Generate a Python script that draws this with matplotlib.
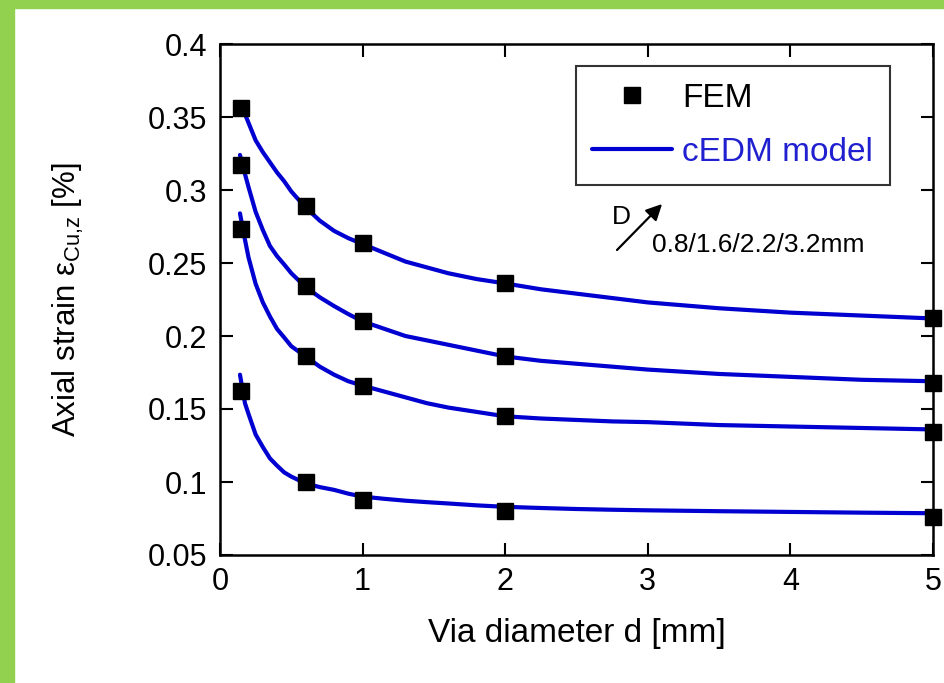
import matplotlib
matplotlib.use('Agg')
import matplotlib.pyplot as plt
from matplotlib.patches import Rectangle

plt.rcParams['font.family'] = ['Liberation Sans', 'DejaVu Sans']
plt.rcParams['mathtext.fontset'] = 'custom'
plt.rcParams['mathtext.rm'] = 'Liberation Sans'
plt.rcParams['mathtext.it'] = 'Liberation Sans'

# FEM points
fem_x = [0.15, 0.6, 1.0, 2.0, 5.0]
fem_D08 = [0.162, 0.100, 0.088, 0.080, 0.076]
fem_D16 = [0.273, 0.186, 0.166, 0.145, 0.134]
fem_D22 = [0.317, 0.234, 0.210, 0.186, 0.168]
fem_D32 = [0.356, 0.289, 0.264, 0.236, 0.212]

# cEDM model curves
mod_x = [0.14, 0.175, 0.2, 0.25, 0.3, 0.35, 0.4, 0.45, 0.5, 0.6, 0.7, 0.8, 0.9, 1.0,
         1.15, 1.3, 1.45, 1.6, 1.8, 2.0, 2.25, 2.5, 2.75, 3.0, 3.5, 4.0, 4.5, 5.0]
mod_D08 = [0.1735, 0.154, 0.1466, 0.1325, 0.124, 0.1162, 0.1112, 0.1066, 0.1037, 0.099,
           0.0965, 0.0946, 0.092, 0.090, 0.0885, 0.0872, 0.0862, 0.0853, 0.084, 0.083,
           0.0822, 0.0815, 0.081, 0.0806, 0.080, 0.0795, 0.079, 0.0786]
mod_D16 = [0.284, 0.266, 0.2538, 0.2357, 0.2231, 0.2134, 0.2048, 0.199, 0.193, 0.186,
           0.179, 0.1735, 0.169, 0.166, 0.162, 0.158, 0.154, 0.151, 0.148, 0.145,
           0.1435, 0.1425, 0.1415, 0.141, 0.139, 0.138, 0.137, 0.136]
mod_D22 = [0.324, 0.311, 0.302, 0.285, 0.2727, 0.2617, 0.2547, 0.249, 0.243, 0.2335,
           0.2265, 0.2205, 0.215, 0.210, 0.205, 0.200, 0.197, 0.194, 0.190, 0.186,
           0.183, 0.181, 0.179, 0.177, 0.174, 0.172, 0.170, 0.169]
mod_D32 = [0.358, 0.352, 0.346, 0.334, 0.326, 0.319, 0.312, 0.306, 0.299, 0.288,
           0.279, 0.272, 0.267, 0.263, 0.257, 0.251, 0.247, 0.243, 0.239, 0.236,
           0.232, 0.229, 0.226, 0.223, 0.219, 0.216, 0.214, 0.212]

fig = plt.figure(figsize=(9.45, 6.83), dpi=100)
fig.patch.set_facecolor('white')
green = '#92d050'
fig.patches.append(Rectangle((0, 0), 14 / 945, 1, transform=fig.transFigure, color=green, zorder=0))
fig.patches.append(Rectangle((0, 1 - 8 / 683), 1, 8 / 683, transform=fig.transFigure, color=green, zorder=0))

ax = fig.add_axes([220 / 945, 1 - 555 / 683, 713 / 945, 511 / 683])

blue = '#0000d0'
for i, (m, f) in enumerate([(mod_D08, fem_D08), (mod_D16, fem_D16), (mod_D22, fem_D22), (mod_D32, fem_D32)]):
    ax.plot(mod_x, m, color=blue, lw=3.0, zorder=2, solid_capstyle='round',
            solid_joinstyle='round', label='cEDM model' if i == 0 else None)
    ax.plot(fem_x, f, 's', color='black', ms=11, zorder=3, clip_on=False,
            label='FEM' if i == 0 else None)

ax.set_xlim(0, 5)
ax.set_ylim(0.05, 0.4)
ax.set_xticks([0, 1, 2, 3, 4, 5])
ax.set_yticks([0.05, 0.1, 0.15, 0.2, 0.25, 0.3, 0.35, 0.4])
ax.set_yticklabels(['0.05', '0.1', '0.15', '0.2', '0.25', '0.3', '0.35', '0.4'])
ax.tick_params(direction='in', length=9, width=1.5, top=True, right=True, labelsize=22, pad=9)
for s in ax.spines.values():
    s.set_linewidth(1.8)

ax.set_xlabel('Via diameter d [mm]', fontsize=24, labelpad=15)
ax.set_ylabel(r'Axial strain $\varepsilon_{\mathrm{Cu{,}z}}$ [%]', fontsize=22.5)
ax.yaxis.set_label_coords(-0.188, 0.5)

h, l = ax.get_legend_handles_labels()
order = [l.index('FEM'), l.index('cEDM model')]
leg = ax.legend([h[i] for i in order], [l[i] for i in order], loc='upper right',
                bbox_to_anchor=(0.9397, 0.957), borderaxespad=0, fontsize=24, frameon=True,
                fancybox=False, edgecolor='black', handlelength=2.4, handletextpad=0.3,
                borderpad=0.5, labelspacing=0.7)
leg.get_frame().set_linewidth(1.5)
leg.get_texts()[1].set_color('#2020d0')

ax.text(2.749, 0.2815, 'D', fontsize=19, ha='left', va='center')
ax.annotate('', xy=(3.10, 0.2904), xytext=(2.784, 0.2589),
            arrowprops=dict(arrowstyle='-|>', color='black', lw=1.6, mutation_scale=24,
                            shrinkA=0, shrinkB=0))
ax.text(3.03, 0.2623, '0.8/1.6/2.2/3.2mm', fontsize=19, ha='left', va='center')

fig.savefig('out.png', dpi=100)
